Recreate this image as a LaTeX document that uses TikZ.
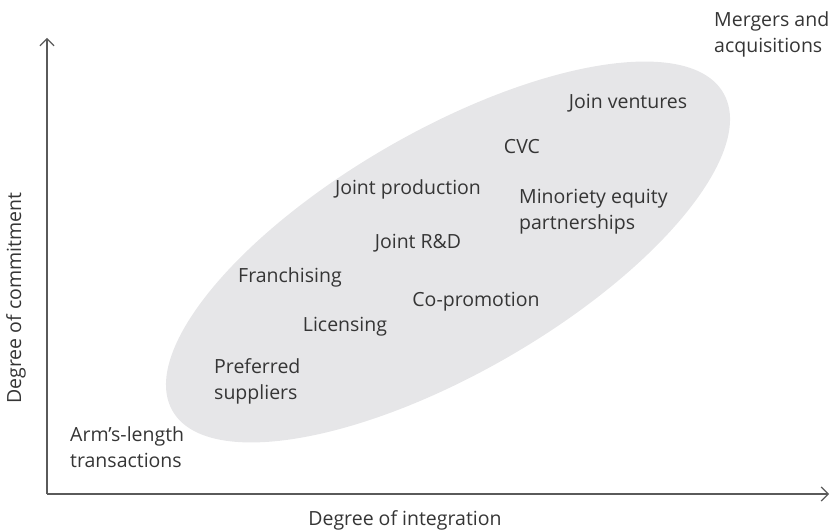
\documentclass[tikz,border=0pt]{standalone}
\usepackage{fontspec}
\setmainfont{Open Sans}
\usepackage{xcolor}
\usetikzlibrary{arrows.meta}
\definecolor{txtgray}{HTML}{353535}
\definecolor{axisgray}{HTML}{5A5A5A}
\definecolor{blobgray}{HTML}{E6E6E8}

\begin{document}
\begin{tikzpicture}[x=1pt, y=1pt,
    lbl/.style={text=txtgray, font=\fontsize{19.5}{26}\selectfont, inner sep=0pt},
    lbll/.style={lbl, align=left, anchor=west},
    axis/.style={draw=axisgray, line width=1.2pt, -{Straight Barb[length=7pt, width=14pt]}}]
      \useasboundingbox (0,0) rectangle (831,531);
      \fill[blobgray] (448,279) ellipse[x radius=318, y radius=121, rotate=30];

      \coordinate (o) at (47,37);
      \coordinate (ytop) at (47,493);
      \coordinate (xend) at (829,37);
      \draw[axis] (o) -- (ytop);
      \draw[axis] (o) -- (xend);

      \node[lbl, rotate=90] (ylab) at (16,233) {Degree of commitment};
      \node[lbl] (xlab) at (405,11) {Degree of integration};

      \node[lbll] (ma) at (714,497) {Mergers and\\acquisitions};
      \node[lbl] (jv) at (628,428) {Join ventures};
      \node[lbl] (cvc) at (522,384) {CVC};
      \node[lbl] (jp) at (408,342) {Joint production};
      \node[lbll] (mep) at (519,319) {Minoriety equity\\partnerships};
      \node[lbl] (jrd) at (418,288) {Joint R\&D};
      \node[lbl] (fr) at (290,254) {Franchising};
      \node[lbl] (cp) at (476,229) {Co-promotion};
      \node[lbl] (lic) at (345,204) {Licensing};
      \node[lbll] (ps) at (214,150) {Preferred\\suppliers};
      \node[lbll] (alt) at (70,84) {Arm’s-length\\transactions};
    \end{tikzpicture}
\end{document}
